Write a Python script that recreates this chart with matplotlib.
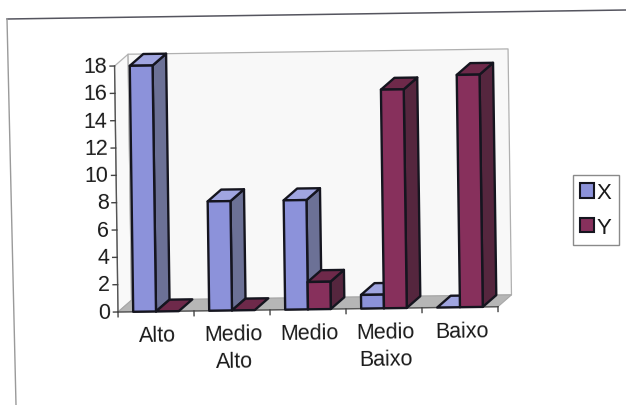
import matplotlib
matplotlib.use('Agg')
import matplotlib.pyplot as plt
from matplotlib.lines import Line2D
from matplotlib.patches import Patch, Polygon
from matplotlib.transforms import Affine2D

plt.rcParams['font.family'] = ['Liberation Sans', 'DejaVu Sans']

categories = ['Alto', 'Medio\nAlto', 'Medio', 'Medio\nBaixo', 'Baixo']
x_values = [18, 8, 8, 1, 0]
y_values = [0, 0, 2, 16, 17]
y_ticks = [0, 2, 4, 6, 8, 10, 12, 14, 16, 18]
series_names = ['X', 'Y']

# front, side, top
x_colors = ['#8c92da', '#6c7196', '#a0a5e0']
y_colors = ['#87305c', '#55263e', '#6e294a']
edge = '#15151f'

W, H = 626, 406
y_top = 18
# oblique depth of the 3d box, in data units
depth_x = 0.18
depth_y = 0.85
tilt = 0.8

fig = plt.figure(figsize=(W / 100, H / 100), dpi=100)
fig.patch.set_facecolor('white')
ax = fig.add_axes([118 / W, (H - 313) / H, 380 / W, 246 / H])
ax.set_xlim(0, 5)
ax.set_ylim(0, y_top)
ax.axis('off')

# whole chart sits slightly tilted around the axis origin
tr = ax.transData + Affine2D().rotate_deg_around(118, H - 313, tilt)


def poly(points, color, ec=edge, lw=1.7, z=2):
    ax.add_patch(Polygon(points, closed=True, facecolor=color, edgecolor=ec,
                         linewidth=lw, transform=tr, clip_on=False, zorder=z,
                         joinstyle='round'))


def box(x0, x1, h, colors):
    dx, dy = depth_x, depth_y
    if h > 0:
        poly([(x1, 0), (x1 + dx, dy), (x1 + dx, h + dy), (x1, h)], colors[1])
    poly([(x0, h), (x1, h), (x1 + dx, h + dy), (x0 + dx, h + dy)], colors[2])
    if h > 0:
        poly([(x0, 0), (x1, 0), (x1, h), (x0, h)], colors[0])


# walls and floor
poly([(0, 0), (depth_x, depth_y), (depth_x, y_top + depth_y), (0, y_top)],
     '#f9f9f9', ec='#b4b4b4', lw=0.9, z=1)
poly([(depth_x, depth_y), (5 + depth_x, depth_y), (5 + depth_x, y_top + depth_y), (depth_x, y_top + depth_y)],
     '#f8f8f8', ec='#b0b0b0', lw=0.9, z=1)
poly([(0, 0), (5, 0), (5 + depth_x, depth_y), (depth_x, depth_y)],
     '#b6b6b6', ec='#a8a8a8', lw=0.8, z=1)

# bars, back to front within each category
for i in range(len(categories)):
    box(i + 0.2, i + 0.5, x_values[i], x_colors)
    box(i + 0.5, i + 0.8, y_values[i], y_colors)

# axes lines and ticks
ax.plot([0, 0], [0, y_top], color='#555555', lw=1.0, transform=tr, clip_on=False, zorder=3)
ax.plot([0, 5], [0, 0], color='#555555', lw=1.0, transform=tr, clip_on=False, zorder=1.5)
for v in y_ticks:
    ax.plot([-0.06, 0], [v, v], color='#444444', lw=1.0, transform=tr, clip_on=False, zorder=3)
    ax.text(-0.105, v, str(v), transform=tr, ha='right', va='center', fontsize=15.5,
            color='#1a1a1a', rotation=tilt, rotation_mode='anchor')
for i in range(len(categories) + 1):
    ax.plot([i, i], [0, -0.35], color='#444444', lw=1.0, transform=tr, clip_on=False, zorder=3)
for i, name in enumerate(categories):
    ax.text(i + 0.52, -0.95, name, transform=tr, ha='center', va='top', fontsize=15.5,
            color='#1a1a1a', linespacing=1.4, rotation=tilt, rotation_mode='anchor')

# legend box
handles = [Patch(facecolor=x_colors[0], edgecolor=edge, linewidth=1.5),
           Patch(facecolor=y_colors[0], edgecolor=edge, linewidth=1.5)]
fig.legend(handles, series_names, loc='upper left',
           bbox_to_anchor=(573 / W, (H - 176) / H), borderaxespad=0, fontsize=16,
           frameon=True, fancybox=False, framealpha=1, edgecolor='#8a8a8a',
           handlelength=0.6, handleheight=0.6, handletextpad=0.14,
           labelspacing=0.62, borderpad=0.33, labelcolor='#1a1a1a')

# outer frame of the chart area
fig.add_artist(Line2D([7 / W, 1], [(H - 20) / H, (H - 11) / H], color='#55555f', lw=1.1))
fig.add_artist(Line2D([7 / W, 16 / W], [(H - 20) / H, 0], color='#9a9a9a', lw=1.0))

fig.savefig('out.png', dpi=100)
